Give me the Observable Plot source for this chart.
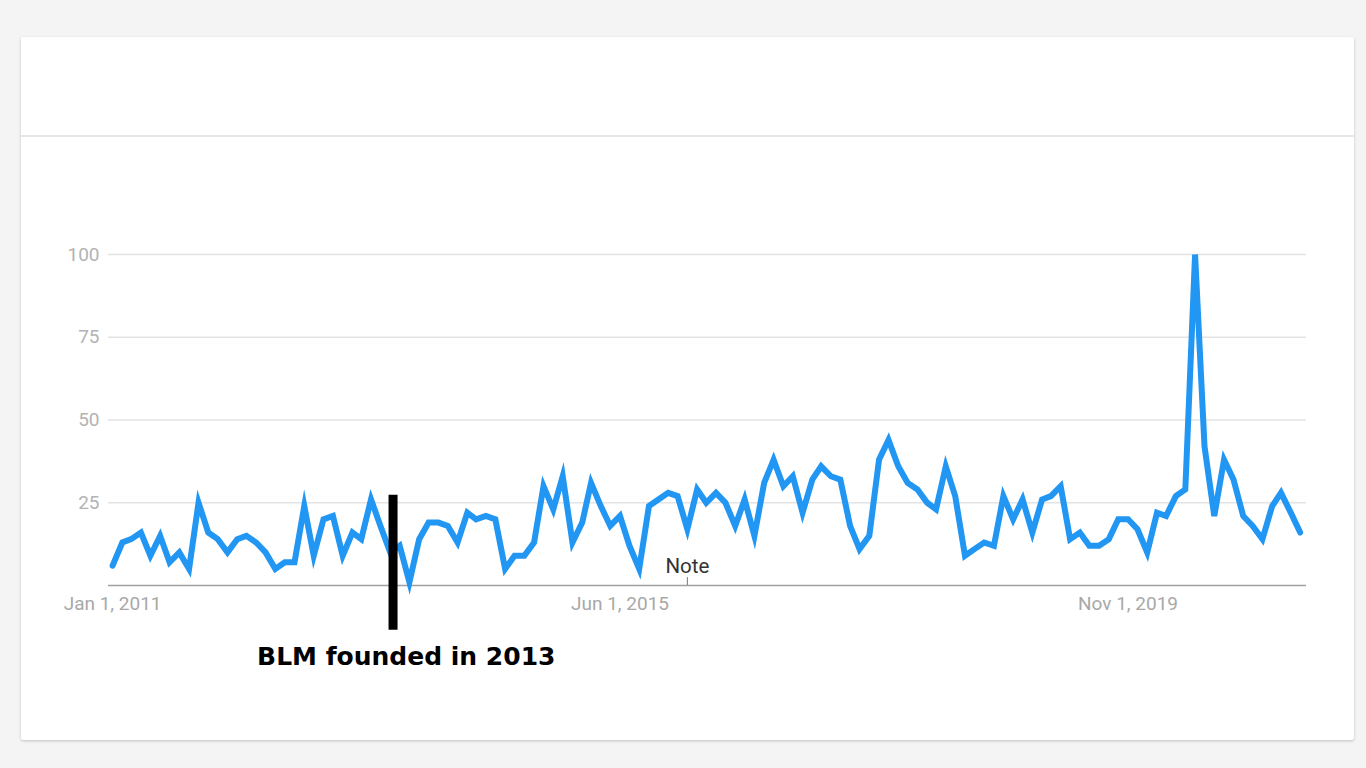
<!DOCTYPE html>
<html>
<head>
<meta charset="utf-8">
<script src="https://cdn.jsdelivr.net/npm/d3@7"></script>
<script src="https://cdn.jsdelivr.net/npm/@observablehq/plot@0.6"></script>
<style>
  html, body { margin: 0; padding: 0; background: #f4f4f4; width: 1366px; height: 768px; overflow: hidden; }
  #card { position: absolute; left: 21px; top: 37px; width: 1333px; height: 703px; background: #fff;
          box-shadow: 0 1px 3px rgba(0,0,0,0.22); border-radius: 2px; }
  #sep { position: absolute; left: 0; top: 98px; width: 100%; height: 2px; background: #e6e6e6; }
  #chart { position: absolute; left: 0; top: 100px; }
</style>
</head>
<body>
<div id="card"><div id="sep"></div><div id="chart"></div></div>
<script>
// Monthly interest, Jan 2011 – May 2021
const startMonth = "2011-01-01";
const endMonth = "2021-05-01";
const values = [
  6, 13, 14, 16, 9, 15, 7, 10, 5, 25, 16, 14,
  10, 14, 15, 13, 10, 5, 7, 7, 24, 9, 20, 21,
  9, 16, 14, 26, 18, 10, 12, 1, 14, 19, 19, 18,
  13, 22, 20, 21, 20, 5, 9, 9, 13, 30, 23, 33,
  13, 19, 31, 24, 18, 21, 12, 5, 24, 26, 28, 27,
  17, 29, 25, 28, 25, 18, 26, 15, 31, 38, 30, 33,
  22, 32, 36, 33, 32, 18, 11, 15, 38, 44, 36, 31,
  29, 25, 23, 36, 27, 9, 11, 13, 12, 27, 20, 26,
  16, 26, 27, 30, 14, 16, 12, 12, 14, 20, 20, 17,
  10, 22, 21, 27, 29, 100, 42, 21, 38, 32, 21, 18,
  14, 24, 28, 22, 16
];
const yTicks = [25, 50, 75, 100];
const xTickDates = ["2011-01-01", "2015-06-01", "2019-11-01"];
const xTickLabels = ["Jan 1, 2011", "Jun 1, 2015", "Nov 1, 2019"];
const xDomain = ["2010-12-19", "2021-05-21"];

// Annotations
const noteDate = "2016-01-01";
const noteLabel = "Note";
const noteTick = [0, 2.4];
const noteTextY = 5.8;
const blmDate = "2013-06-10";
const blmRange = [27.3, -13.5];
const blmLabel = "BLM founded in 2013";
const blmTextDate = "2013-07-22";
const blmTextY = -21.6;

const months = d3.utcMonth.range(new Date(startMonth), d3.utcMonth.offset(new Date(endMonth), 1));
const data = months.map((d, i) => ({date: d, value: values[i]}));
const D = s => new Date(s);

const chart = Plot.plot({
  width: 1333,
  height: 603,
  marginLeft: 87,
  marginRight: 48,
  marginTop: 117,
  marginBottom: 155,
  style: {fontFamily: "Roboto, sans-serif", background: "transparent", overflow: "visible"},
  x: {type: "utc", domain: xDomain.map(D)},
  y: {domain: [0, 100]},
  marks: [
    Plot.gridY(yTicks, {stroke: "#e3e3e3", strokeOpacity: 1, strokeWidth: 1.5}),
    Plot.ruleY([0], {stroke: "#a0a0a0", strokeWidth: 1.5}),
    Plot.axisY(yTicks, {tickSize: 0, tickPadding: 9, label: null, fontSize: 19, fill: "#b3b3b3"}),
    Plot.axisX(xTickDates.map(D), {tickSize: 0, tickPadding: 11, label: null, fontSize: 19, fill: "#a8a8a8",
      tickFormat: (d, i) => xTickLabels[i]}),
    Plot.ruleX([D(noteDate)], {y1: noteTick[0], y2: noteTick[1], stroke: "#777", strokeWidth: 1}),
    Plot.text([noteLabel], {x: () => D(noteDate), y: () => noteTextY, text: d => d, fontSize: 20.5, fill: "#333"}),
    Plot.lineY(data, {x: "date", y: "value", stroke: "#2196f3", strokeWidth: 6, strokeLinejoin: "miter", strokeMiterlimit: 6}),
    Plot.ruleX([D(blmDate)], {y1: blmRange[0], y2: blmRange[1], stroke: "#000", strokeWidth: 9}),
    Plot.text([blmLabel], {x: () => D(blmTextDate), y: () => blmTextY, text: d => d, fontSize: 25, fontWeight: "bold",
      fill: "#000", fontFamily: "DejaVu Sans"})
  ]
});
document.getElementById("chart").appendChild(chart);
</script>
</body>
</html>
